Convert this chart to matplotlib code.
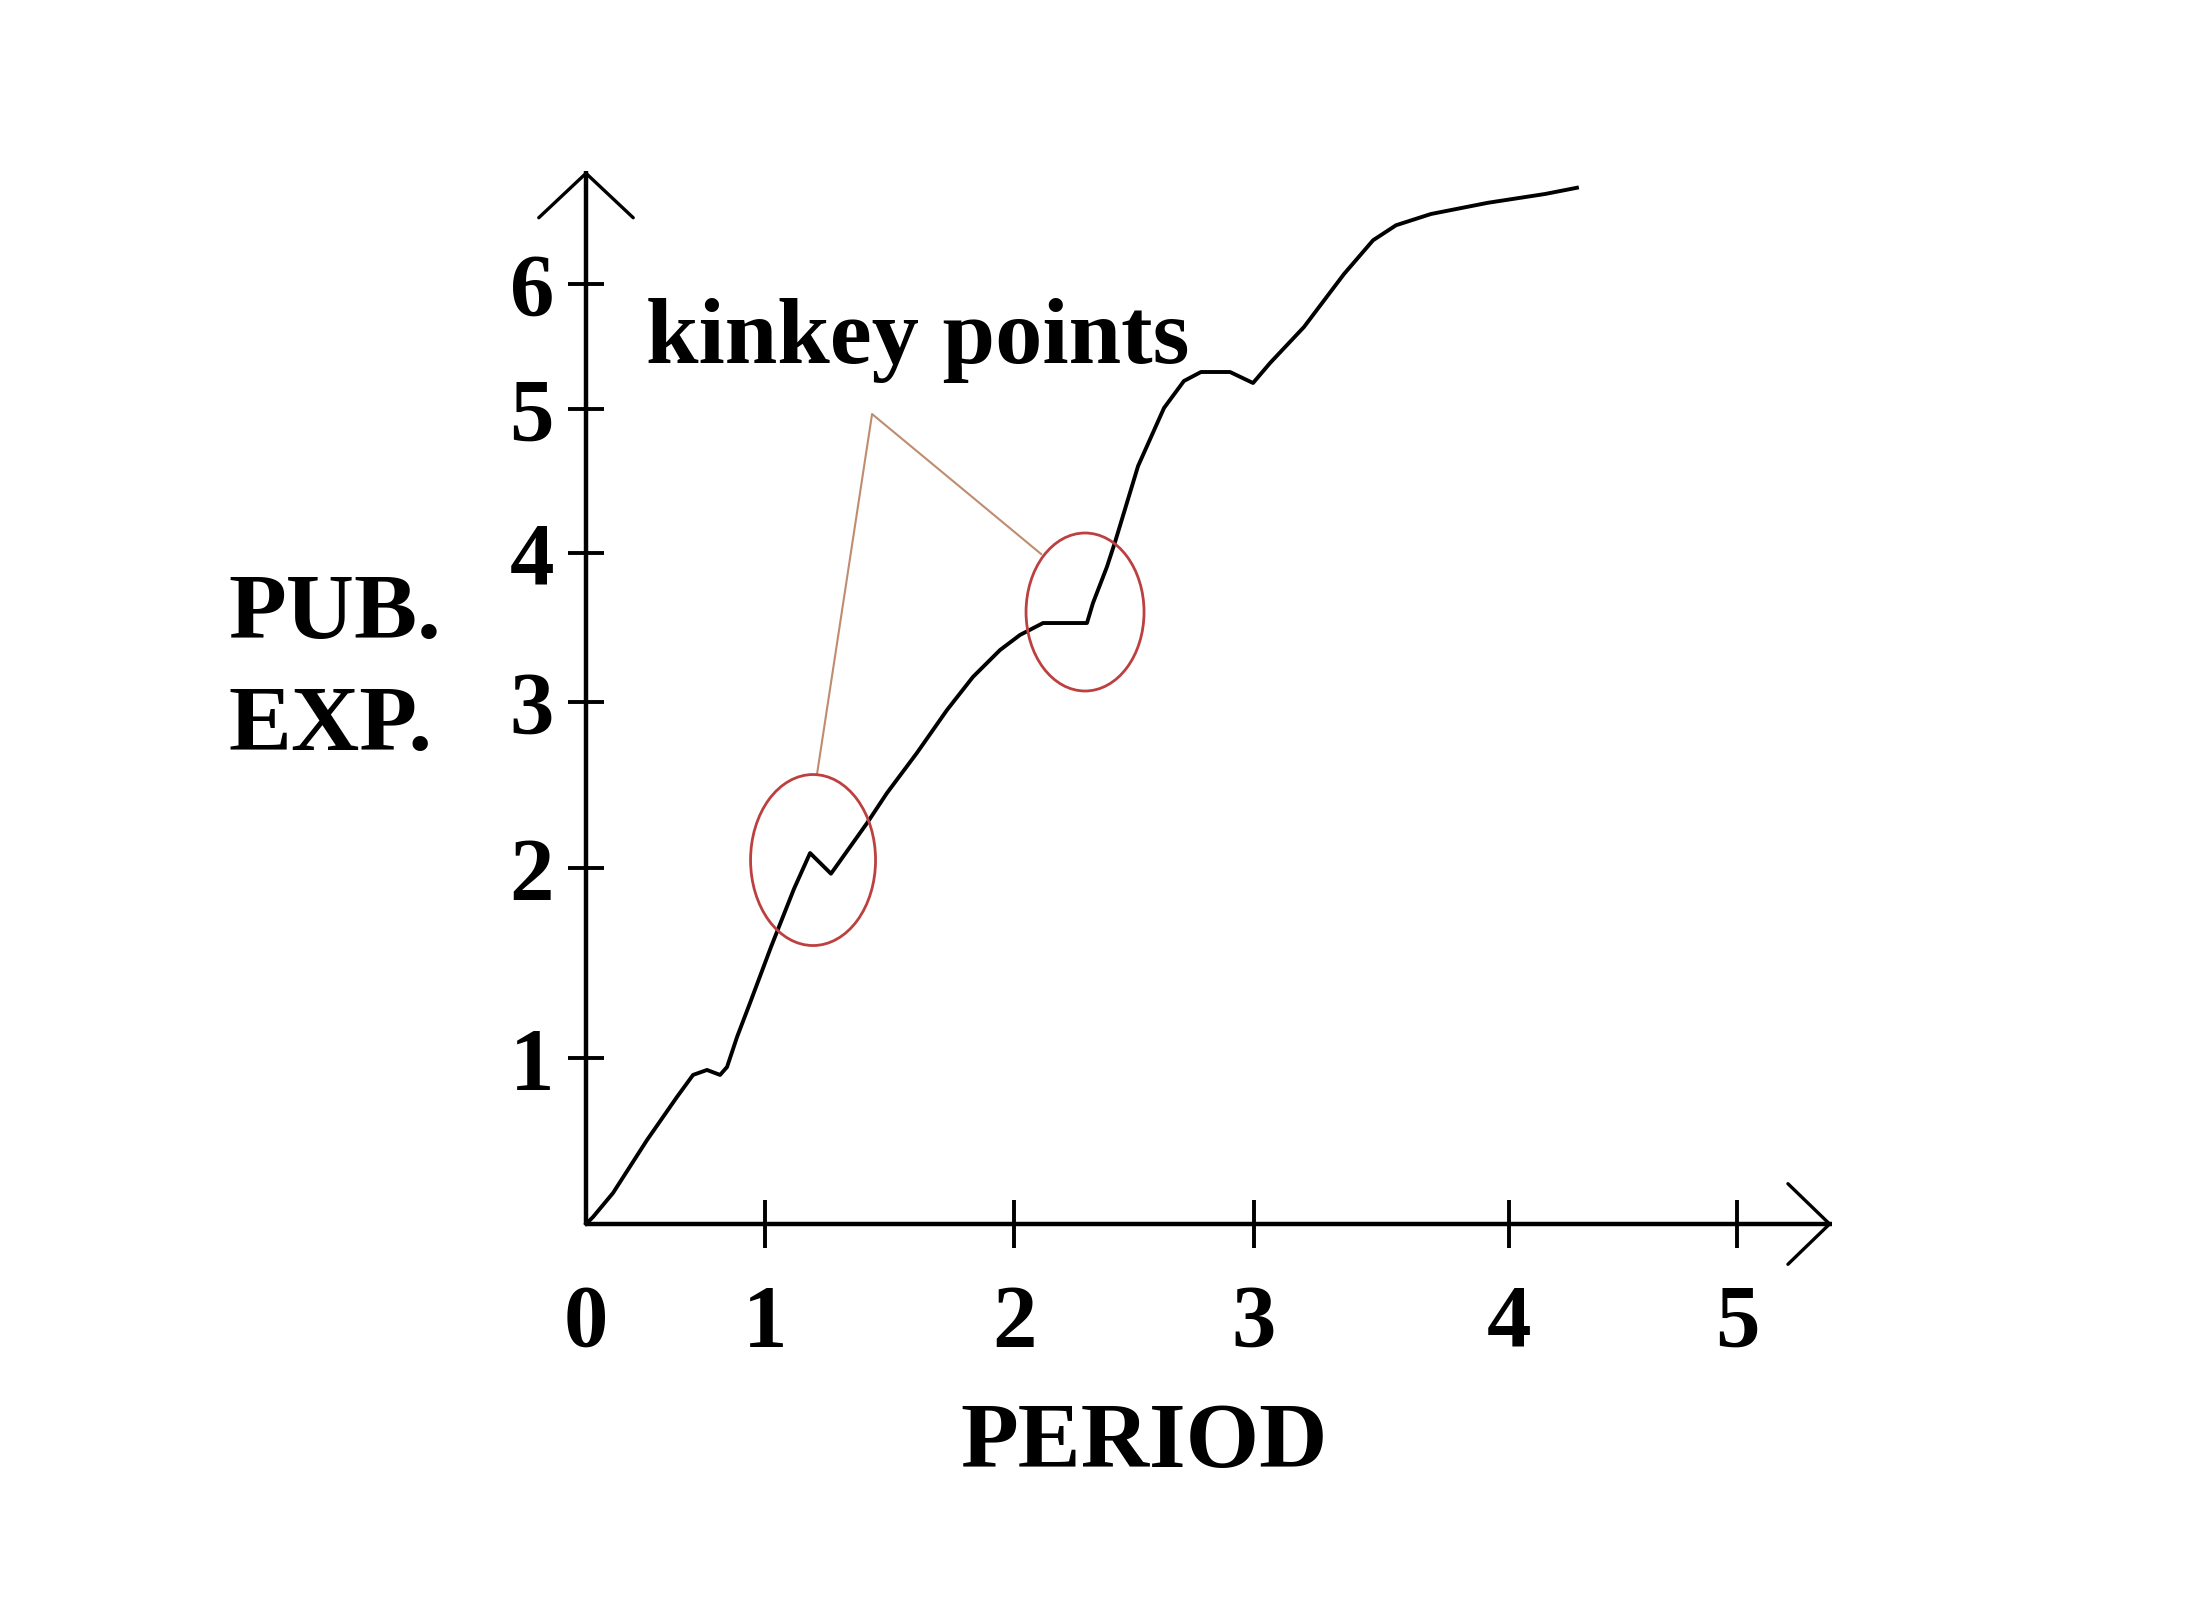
import numpy as np
import matplotlib
matplotlib.use("Agg")
import matplotlib.pyplot as plt
from matplotlib import transforms
from matplotlib.patches import Ellipse

# ---------------- data ----------------
period = [0.000, 0.039, 0.151, 0.341, 0.508, 0.598, 0.676, 0.749, 0.788, 0.844,
          0.916, 1.024, 1.116, 1.181, 1.265, 1.410, 1.490, 1.610, 1.731, 1.835,
          1.944, 2.025, 2.121, 2.304, 2.329, 2.387, 2.421, 2.517, 2.625, 2.708,
          2.779, 2.900, 2.996, 3.063, 3.196, 3.353, 3.467, 3.557, 3.694, 3.918,
          4.158, 4.298]
pub_exp = [0.000, 0.042, 0.187, 0.506, 0.765, 0.898, 0.928, 0.898, 0.946, 1.111,
           1.289, 1.584, 1.889, 2.090, 1.970, 2.271, 2.452, 2.693, 2.952, 3.168,
           3.349, 3.450, 3.530, 3.530, 3.664, 3.906, 4.076, 4.604, 5.008, 5.224,
           5.296, 5.296, 5.208, 5.368, 5.656, 6.080, 6.350, 6.470, 6.560, 6.650,
           6.720, 6.770]

x_ticks = [0, 1, 2, 3, 4, 5]
x_tick_labels = ["0", "1", "2", "3", "4", "5"]
y_ticks = [1, 2, 3, 4, 5, 6]
y_tick_labels = ["1", "2", "3", "4", "5", "6"]

# kinked points circled (period, pub. exp.)
kink_x = [1.193, 2.296]
kink_y = [2.048, 3.604]

# annotation pointer: lower end, vertex, upper end
pointer_x = [1.209, 1.430, 2.113]
pointer_y = [2.566, 4.965, 3.993]

annotation_text = "kinkey points"
x_label = "PERIOD"
y_label_lines = ["PUB.", "EXP."]

# ---------------- hand-drawn, uneven axis scales ----------------
W, H = 2187, 1623
XV = [-4, 0, 1, 2, 3, 4, 5, 9]
XP = [-130, 586, 765, 1014, 1254, 1509, 1737, 2649]
YV = [-4, 0, 1, 2, 3, 4, 5, 6, 10]
YP = [H - p for p in [1888, 1224, 1058, 868, 702, 553, 409, 284, -216]]

def fx(v):
    return np.interp(v, XV, XP)

def ix(p):
    return np.interp(p, XP, XV)

def fy(v):
    return np.interp(v, YV, YP)

def iy(p):
    return np.interp(p, YP, YV)

fig = plt.figure(figsize=(W / 100, H / 100), dpi=100)
fig.patch.set_facecolor("white")
ax = fig.add_axes([0, 0, 1, 1])
ax.patch.set_visible(False)
ax.set_xscale("function", functions=(fx, ix))
ax.set_yscale("function", functions=(fy, iy))
ax.set_xlim(float(ix(0)), float(ix(W)))
ax.set_ylim(float(iy(0)), float(iy(H)))

FONT = "Liberation Serif"
AX_LW = 3.2
x_end = float(ix(1832))
y_end = float(iy(H - 171))

for s in ["top", "right"]:
    ax.spines[s].set_visible(False)
ax.spines["left"].set_position(("data", 0))
ax.spines["bottom"].set_position(("data", 0))
ax.spines["left"].set_bounds(0, y_end)
ax.spines["bottom"].set_bounds(0, x_end)
for s in ["left", "bottom"]:
    ax.spines[s].set_linewidth(AX_LW)
    ax.spines[s].set_color("black")
    ax.spines[s].set_capstyle("butt")

# open arrow heads
ax.annotate("", xy=(0, y_end), xytext=(0, y_end - 0.3),
            arrowprops=dict(arrowstyle="->,head_length=32,head_width=34",
                            mutation_scale=1, lw=AX_LW * 0.75, color="black",
                            shrinkA=0, shrinkB=0))
ax.annotate("", xy=(x_end, 0), xytext=(x_end - 0.3, 0),
            arrowprops=dict(arrowstyle="->,head_length=30,head_width=29",
                            mutation_scale=1, lw=AX_LW * 0.75, color="black",
                            shrinkA=0, shrinkB=0))

ax.set_xticks(x_ticks)
ax.set_xticklabels(x_tick_labels)
ax.set_yticks(y_ticks)
ax.set_yticklabels(y_tick_labels)
ax.tick_params(axis="x", direction="inout", length=34, width=2.8, pad=26,
               labelsize=64)
ax.tick_params(axis="y", direction="inout", length=26, width=2.8, pad=10,
               labelsize=64)
ax.xaxis.get_major_ticks()[0].tick1line.set_visible(False)
for lab in ax.get_xticklabels() + ax.get_yticklabels():
    lab.set_fontfamily(FONT)
    lab.set_fontweight("bold")

# the curve
ax.plot(period, pub_exp, color="black", lw=2.8, solid_joinstyle="round",
        zorder=3)

# pointer lines
ax.plot(pointer_x, pointer_y, color="#bf8c70", lw=1.5, zorder=2)

# red ellipses around the kinks
ell_sizes = [(1.25, 1.71), (1.18, 1.58)]
for kx, ky, (ew, eh) in zip(kink_x, kink_y, ell_sizes):
    tr = fig.dpi_scale_trans + transforms.ScaledTranslation(kx, ky, ax.transData)
    e = Ellipse((0, 0), ew, eh, transform=tr, fill=False,
                edgecolor="#bc4040", lw=2.0, zorder=4)
    ax.add_artist(e)

# texts
fig.text(646 / W, 1 - 363 / H, annotation_text, fontsize=68,
         family=FONT, weight="bold", ha="left", va="baseline")
fig.text(1144 / W, 1 - 1467 / H, x_label, fontsize=68, family=FONT,
         weight="bold", ha="center", va="baseline")
fig.text(228 / W, 1 - 638 / H, y_label_lines[0], fontsize=68, family=FONT,
         weight="bold", ha="left", va="baseline")
fig.text(228 / W, 1 - 750 / H, y_label_lines[1], fontsize=68, family=FONT,
         weight="bold", ha="left", va="baseline")

fig.savefig("out.png", dpi=100, facecolor="white")
